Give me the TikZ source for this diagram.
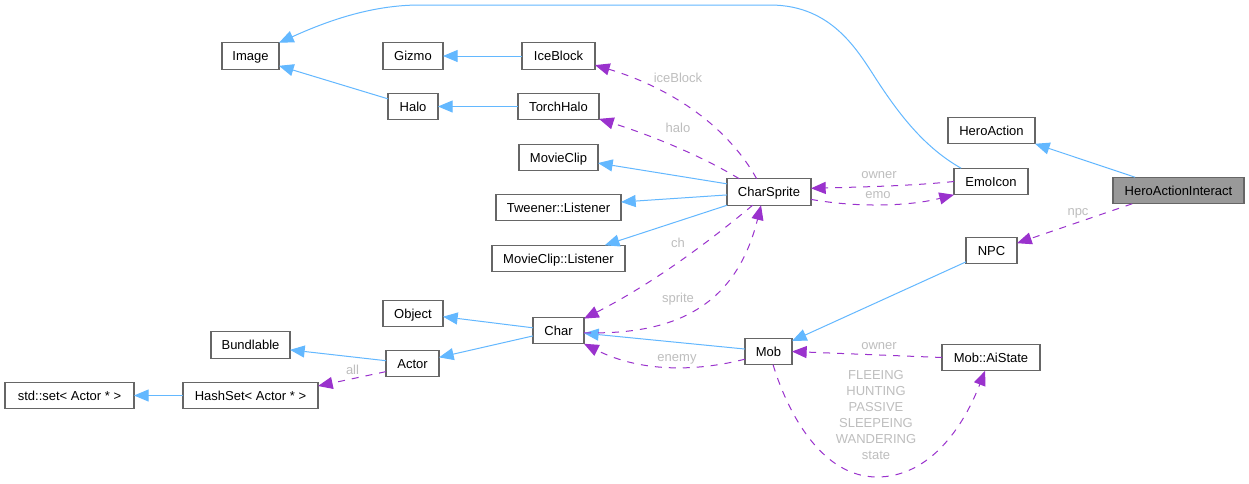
\documentclass[tikz,border=0pt]{standalone}
\usepackage{fontspec}
\setmainfont{Liberation Sans}
\usetikzlibrary{arrows.meta}
\definecolor{inheritblue}{HTML}{63B8FF}
\definecolor{memberpurple}{HTML}{9A32CD}
\definecolor{boxgray}{HTML}{666666}
\definecolor{maingray}{HTML}{999999}
\definecolor{labelgray}{HTML}{BEBEBE}
\newcommand\DrawClass[6][class box]{%
  \node[#1,minimum width=#5*0.75pt] (#2) at (#3,#4) {#6};
}
\tikzset{%
  >={Triangle[length=11pt,width=9pt]}, % filled doxygen tips
  class box/.style={draw=boxgray,fill=white,line width=0.85pt,inner sep=0pt,
    outer sep=0pt,minimum height=19.9pt,text height=9pt,text depth=2.2pt,
    font=\fontsize{9.75}{12}\selectfont},
  main box/.style={class box,fill=maingray},
  inherit edge/.style={->,draw=inheritblue,line width=0.75pt},
  member edge/.style={->,draw=memberpurple,line width=0.75pt,
    dash pattern=on 5.25pt off 5.25pt},
  edge label/.style={text=labelgray,inner sep=0pt,align=center,
    font=\fontsize{9.75}{12}\selectfont}
}
\begin{document}
\begin{tikzpicture}[x=0.75pt,y=-0.75pt]

%% page

\path[use as bounding box,fill=white] (0,0) rectangle (1249,483);

%% draw classes

\DrawClass{Image}{250.5}{56}{57}{Image}
\DrawClass{Gizmo}{413}{56}{60}{Gizmo}
\DrawClass{IceBlock}{558.5}{56}{73}{IceBlock}
\DrawClass{Halo}{413}{106.5}{50}{Halo}
\DrawClass{TorchHalo}{558.5}{106.5}{81}{TorchHalo}
\DrawClass{MovieClip}{558.5}{157.5}{79}{MovieClip}
\DrawClass{TweenerListener}{558.5}{207.5}{125}{Tweener::Listener}
\DrawClass{ClipListener}{558.5}{258.5}{133}{MovieClip::Listener}
\DrawClass{CharSprite}{769}{192}{84}{CharSprite}
\DrawClass{EmoIcon}{991}{181.5}{74}{EmoIcon}
\DrawClass{HeroAction}{991.5}{130.5}{87}{HeroAction}
\DrawClass[main box]{HeroActionInteract}{1178.5}{190.5}{131}{HeroActionInteract}
\DrawClass{NPC}{991.5}{250.5}{51}{NPC}
\DrawClass{Object}{413}{313.5}{60}{Object}
\DrawClass{Bundlable}{250.5}{345}{79}{Bundlable}
\DrawClass{Actor}{412.5}{363.5}{53}{Actor}
\DrawClass{Char}{558.5}{330.5}{51}{Char}
\DrawClass{Mob}{768.5}{351.5}{47}{Mob}
\DrawClass{AiState}{991}{357.5}{98}{Mob::AiState}
\DrawClass{HashSet}{250.5}{395.5}{135}{HashSet< Actor * >}
\DrawClass{StdSet}{69.5}{395.5}{129}{std::set< Actor * >}

%% draw inheritance

\draw[inherit edge] (IceBlock) -- (Gizmo);
\draw[inherit edge] (TorchHalo) -- (Halo);
\draw[inherit edge] (Halo.163) -- (Image.-19);
\draw[inherit edge] (EmoIcon.156) .. controls (925,148) and (900,115) .. (880,85)
    .. controls (860,55) and (835,5) .. (770,5) -- (420,5)
    .. controls (370,5) and (325,22) .. (Image.north east);
\draw[inherit edge] (HeroActionInteract.163.5) -- (HeroAction.south east);
\draw[inherit edge] (NPC.-156) -- (Mob.24);
\draw[inherit edge] (Mob.174) -- (Char.-6);
\draw[inherit edge] (Char.174.5) -- (Object.-6.5);
\draw[inherit edge] (Char.192) -- (Actor.13.5);
\draw[inherit edge] (Actor.174.5) -- (Bundlable.-7);
\draw[inherit edge] (HashSet) -- (StdSet);
\draw[inherit edge] (CharSprite.169) -- (MovieClip.-8);
\draw[inherit edge] (CharSprite.184) -- (TweenerListener.5);
\draw[inherit edge] (CharSprite.south west) -- (ClipListener.16);

%% draw members

\draw[member edge] (CharSprite.133) .. controls (725,122) and (665,86) .. (IceBlock.-14);
\draw[member edge] (CharSprite.156) .. controls (700,155) and (650,135) .. (TorchHalo.-17);
\draw[member edge] (EmoIcon.west) .. controls (910,186) and (860,187) .. (CharSprite.5.4);
\draw[member edge] (CharSprite.-10.8) .. controls (860,208) and (910,206) .. (EmoIcon.south west);
\draw[member edge] (HeroActionInteract.196) -- (NPC.16.4);
\draw[member edge] (CharSprite.-141) .. controls (705,245) and (650,285) .. (Char.25.7);
\draw[member edge] (Char.-5.5) .. controls (670,335) and (735,310) .. (CharSprite.-121.6);
\draw[member edge] (Mob.-162.3) .. controls (695,372) and (640,372) .. (Char.south east);
\draw[member edge] (Actor.197) -- (HashSet.8);
\draw[member edge] (AiState.west) -- (Mob.east);
\draw[member edge] (Mob.-71.6) .. controls (790,420) and (825,477) .. (877,477)
    .. controls (925,477) and (960,435) .. (AiState.-114);

%% put labels

\node[edge label] (iceBlockLabel) at (678,78) {iceBlock};
\node[edge label] (haloLabel) at (678,128) {halo};
\node[edge label] (ownerSpriteLabel) at (879,175) {owner};
\node[edge label] (emoLabel) at (878,195) {emo};
\node[edge label] (npcLabel) at (1078,213) {npc};
\node[edge label] (chLabel) at (678,243) {ch};
\node[edge label] (spriteLabel) at (678,299) {sprite};
\node[edge label] (enemyLabel) at (677,359) {enemy};
\node[edge label] (allLabel) at (352.5,370) {all};
\node[edge label] (ownerMobLabel) at (879,346) {owner};
\node[edge label,anchor=north] (stateLabel) at (876,370)
    {FLEEING\\[0pt]HUNTING\\[0pt]PASSIVE\\[0pt]SLEEPEING\\[0pt]WANDERING\\[0pt]state};

\end{tikzpicture}
\end{document}
